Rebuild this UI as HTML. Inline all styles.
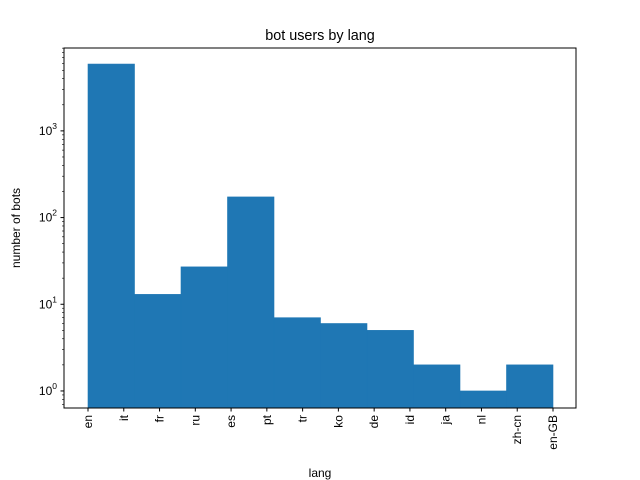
<!DOCTYPE html>
<html><head><meta charset="utf-8"><style>body{margin:0;background:#fff}svg{display:block;font-family:"Liberation Sans","DejaVu Sans",sans-serif}</style></head>
<body>
<svg id="chart" width="640" height="480"></svg>
<script>
const categories=["en","it","fr","ru","es","pt","tr","ko","de","id","ja","nl","zh-cn","en-GB"];
const counts=[5900,13,27,173,7,6,5,2,1,2];
const tickLabels=["en","it","fr","ru","es","pt","tr","ko","de","id","ja","nl","zh-cn","en-GB"];
const yDecades=[0,1,2,3];
const NS="http://www.w3.org/2000/svg";
const svg=document.getElementById('chart');
const L=64,R=576,T=48,B=408;
const xMin=-0.671,xMax=13.643; // tick index space
const yLogMin=Math.log10(0.636),yLogMax=3.956;
function xs(i){return L+(i-xMin)/(xMax-xMin)*(R-L);}
function ys(v){return B-(Math.log10(v)-yLogMin)/(yLogMax-yLogMin)*(B-T);}
function el(t,a,p){const e=document.createElementNS(NS,t);for(const k in a)e.setAttribute(k,a[k]);(p||svg).appendChild(e);return e;}
const nT=tickLabels.length;
const binW=(nT-1)/counts.length;
counts.forEach((c,i)=>{
  const x0=xs(i*binW),x1=xs((i+1)*binW),y=ys(c);
  const r=el('rect',{x:x0,y:y,width:x1-x0,height:B-y,fill:'#1f77b4',stroke:'#1f77b4','stroke-width':0.6});
  
  
});
const frame=el('rect',{x:L,y:T,width:R-L,height:B-T,fill:'none',stroke:'#000','stroke-width':1});


tickLabels.forEach((t,i)=>{
  const x=xs(i);
  el('line',{x1:x,x2:x,y1:B,y2:B+3.5,stroke:'#000'});
  const tx=el('text',{x:0,y:0,'font-size':12,'text-anchor':'end',transform:`translate(${x+4},${B+7}) rotate(-90)`});
  tx.textContent=t;
  
  
});
yDecades.forEach(d=>{
  const y=ys(Math.pow(10,d));
  el('line',{x1:L-3.5,x2:L,y1:y,y2:y,stroke:'#000'});
  const tx=el('text',{x:L-7,y:y+4,'font-size':12,'text-anchor':'end'});
  tx.innerHTML='10<tspan dy="-6" font-size="8.5">'+d+'</tspan>';
  
  
});
for(let d=-1;d<=3;d++)for(let m=2;m<=9;m++){const v=m*Math.pow(10,d);const lv=Math.log10(v);if(lv<yLogMin||lv>yLogMax)continue;const y=ys(v);el('line',{x1:L-2,x2:L,y1:y,y2:y,stroke:'#000','stroke-width':0.6});}
const title=el('text',{x:(L+R)/2,y:40,'font-size':14.4,'text-anchor':'middle'});title.textContent='bot users by lang';


const xl=el('text',{x:(L+R)/2,y:477,'font-size':12,'text-anchor':'middle'});xl.textContent='lang';


const yl=el('text',{x:0,y:0,'font-size':12,'text-anchor':'middle',transform:`translate(20,${(T+B)/2}) rotate(-90)`});yl.textContent='number of bots';


</script>
</body></html>
